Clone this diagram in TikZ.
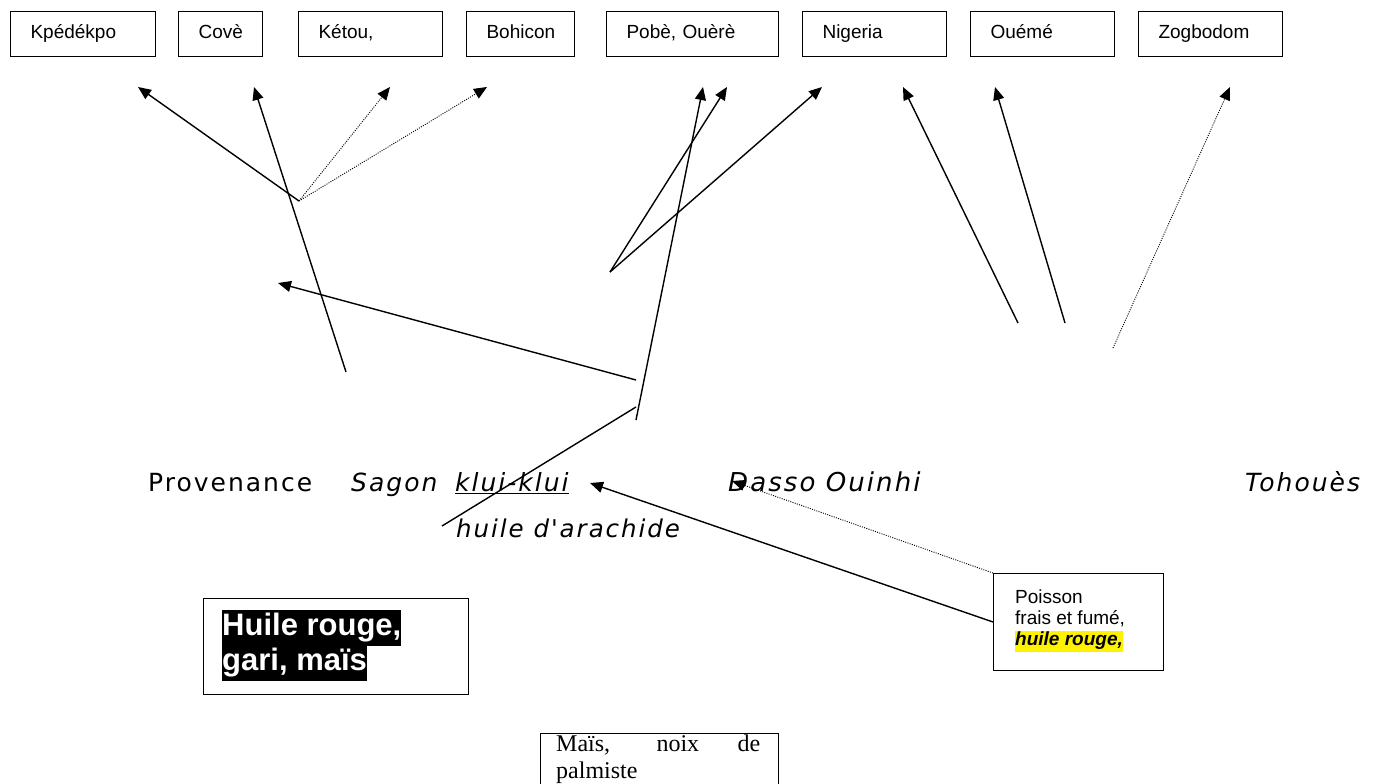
\documentclass[tikz,border=0pt]{standalone}
\usepackage{fontspec}
\setmainfont{Liberation Sans}
\newfontfamily\rowfont[LetterSpace=8]{DejaVu Sans}
\newfontfamily\bookfont{Liberation Serif}
\usetikzlibrary{arrows.meta}

\begin{document}
\begin{tikzpicture}[x=1pt,y=-1pt,
  townbox/.style={draw, line width=1.1pt, anchor=north west, minimum height=45pt,
    inner xsep=0pt, text width=#1, align=left, font=\fontsize{19}{22}\selectfont},
  link/.style={line width=1.4pt, -{Triangle[length=13pt,width=11pt]}},
  dotlink/.style={line width=0.9pt, dash pattern=on 1pt off 1.3pt, -{Triangle[length=13pt,width=11pt]}},
  bare/.style={line width=1.4pt},
  rowtext/.style={anchor=base west, inner sep=0pt, font=\rowfont\fontsize{25}{30}\selectfont},
  notebox/.style={draw, line width=1.1pt, anchor=north west, align=left}]

\useasboundingbox (0,0) rectangle (1374,784);

% destination boxes along the top
\node[townbox=145pt] (kpe) at (10,11) {\hspace*{20pt}\strut Kpédékpo};
\node[townbox=84pt]  (cove) at (178,11) {\hspace*{20pt}\strut Covè};
\node[townbox=144pt] (ketou) at (298,11) {\hspace*{20pt}\strut Kétou,};
\node[townbox=108pt] (bohi) at (466,11) {\hspace*{20pt}\strut Bohicon};
\node[townbox=172pt] (pobe) at (606,11) {\hspace*{20pt}\strut Pobè,\ Ouèrè};
\node[townbox=144pt] (nig) at (802,11) {\hspace*{20pt}\strut Nigeria};
\node[townbox=144pt] (oue) at (970,11) {\hspace*{20pt}\strut Ouémé};
\node[townbox=144pt] (zog) at (1138,11) {\hspace*{20pt}\strut Zogbodom};

% the row of markets
\node[rowtext] (prov) at (148,491) {Provenance};
\node[rowtext] (sagon) at (351,491) {\itshape Sagon};
\node[rowtext] (klui) at (455,491) {\itshape\underline{klui-klui}};
\node[rowtext, font=\rowfont\fontsize{26}{30}\selectfont] (dasso) at (728,491) {\itshape Dasso Ouinhi};
\node[rowtext] (toh) at (1245,491) {\itshape Tohouès};
\node[rowtext, font=\rowfont\fontsize{24.5}{30}\selectfont] (arach) at (456,537) {\itshape huile d'arachide};

% product boxes
\node[notebox, minimum width=265pt, minimum height=96pt, inner sep=0pt] (rouge) at (203,598) {};
\node[anchor=north west, inner sep=0pt, align=left,
      font=\fontsize{31}{36}\bfseries\selectfont, text=white] (rougetxt) at (222,610)
  {\setlength{\fboxsep}{0pt}\colorbox{black}{\strut Huile rouge,}\\[-1pt]
   \setlength{\fboxsep}{0pt}\colorbox{black}{\strut gari, maïs}};

\node[notebox, minimum width=238pt, minimum height=70pt, inner sep=0pt] (mais) at (540,733) {};
\node[anchor=north west, inner sep=0pt, text width=204pt, align=justify,
      font=\bookfont\fontsize{24}{27}\selectfont] (maistxt) at (556,735)
  {Maïs, noix de palmiste};

\node[notebox, minimum width=170pt, minimum height=97pt, inner sep=0pt] (pois) at (993,573) {};
\node[anchor=north west, inner sep=0pt, align=left,
      font=\fontsize{19}{21}\selectfont] (poistxt) at (1015,590)
  {Poisson\\frais et fumé,\\\setlength{\fboxsep}{0pt}\colorbox{yellow}{\strut\bfseries\itshape huile rouge,}};

% free ends of the connectors
\coordinate (j1) at (299,201);
\coordinate (tkpe) at (138,87);
\coordinate (tcove) at (254,87);
\coordinate (tketou) at (390,87);
\coordinate (tbohi) at (487,87);
\coordinate (cove0) at (346,372);
\coordinate (j2) at (610,272);
\coordinate (tpobe1) at (703,87);
\coordinate (tpobe2) at (727,87);
\coordinate (tnig1) at (822,87);
\coordinate (tnig2) at (903,87);
\coordinate (toue) at (995,87);
\coordinate (tzog) at (1230,87);
\coordinate (nig0) at (1018,323);
\coordinate (oue0) at (1065,323);
\coordinate (zog0) at (1113,348);
\coordinate (long0) at (636,420);
\coordinate (west0) at (636,380);
\coordinate (twest) at (278,283);
\coordinate (k1) at (636,407);
\coordinate (k0) at (442,526);
\coordinate (tklui) at (590,483);
\coordinate (tdasso) at (732,481);
\coordinate (poisw) at (993,622);

% connectors
\draw[link] (j1) -- (tkpe);
\draw[link] (cove0) -- (tcove);
\draw[dotlink] (j1) -- (tketou);
\draw[dotlink] (j1) -- (tbohi);
\draw[link] (j2) -- (tpobe2);
\draw[link] (j2) -- (tnig1);
\draw[link] (long0) -- (tpobe1);
\draw[link] (west0) -- (twest);
\draw[bare] (k0) -- (k1);
\draw[link] (nig0) -- (tnig2);
\draw[link] (oue0) -- (toue);
\draw[dotlink] (zog0) -- (tzog);
\draw[link] (poisw) -- (tklui);
\draw[dotlink] (pois.north west) -- (tdasso);
\end{tikzpicture}
\end{document}
